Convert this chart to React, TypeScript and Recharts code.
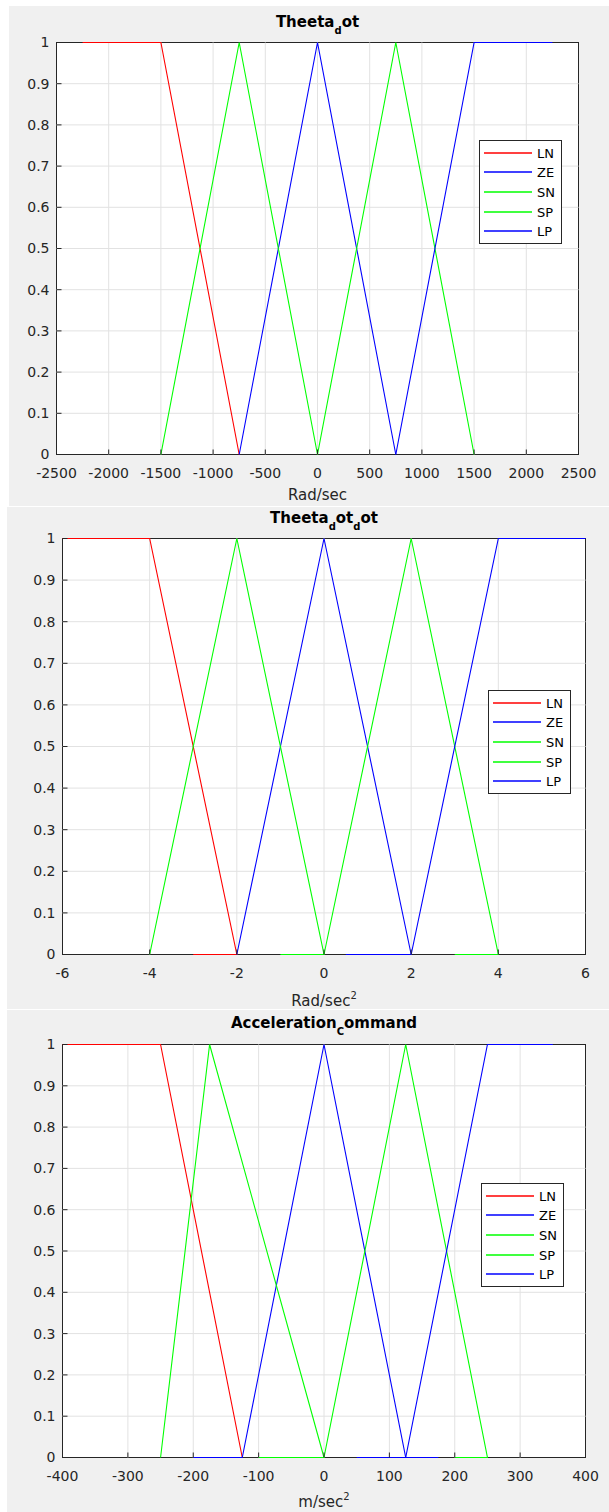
import React from "react";
import { LineChart, Line, XAxis, YAxis, CartesianGrid } from "recharts";

const FONT = "'DejaVu Sans', sans-serif";
const AXIS = "#262626";
const GRID = "#e2e2e2";
const RED = "#ff0000";
const BLUE = "#0000ff";
const GREEN = "#00ff00";

const yTicks = [0, 0.1, 0.2, 0.3, 0.4, 0.5, 0.6, 0.7, 0.8, 0.9, 1];
const seriesNames = ["LN", "ZE", "SN", "SP", "LP"];
const seriesColors = [RED, BLUE, GREEN, GREEN, BLUE];

// Theeta_dot (Rad/sec)
const dotTicks = [-2500, -2000, -1500, -1000, -500, 0, 500, 1000, 1500, 2000, 2500];
const dotLN = [[-2250, 1], [-1500, 1], [-750, 0]];
const dotZE = [[-750, 0], [0, 1], [750, 0]];
const dotSN = [[-1500, 0], [-750, 1], [0, 0]];
const dotSP = [[0, 0], [750, 1], [1500, 0]];
const dotLP = [[750, 0], [1500, 1], [2250, 1]];

// Theeta_dot_dot (Rad/sec^2)
const ddTicks = [-6, -4, -2, 0, 2, 4, 6];
const ddLN = [[-6, 1], [-4, 1], [-2, 0], [-3, 0]];
const ddZE = [[-2, 0], [0, 1], [2, 0]];
const ddSN = [[-4, 0], [-2, 1], [0, 0], [-1, 0]];
const ddSP = [[0, 0], [2, 1], [4, 0], [3, 0]];
const ddLP = [[0.5, 0], [2, 0], [4, 1], [6, 1]];

// Acceleration_Command (m/sec^2)
const accTicks = [-400, -300, -200, -100, 0, 100, 200, 300, 400];
const accLN = [[-400, 1], [-250, 1], [-125, 0]];
const accZE = [[-200, 0], [-125, 0], [0, 1], [125, 0], [175, 0]];
const accSN = [[-250, 0], [-175, 1], [0, 0]];
const accSP = [[-100, 0], [0, 0], [125, 1], [250, 0], [200, 0]];
const accLP = [[50, 0], [125, 0], [250, 1], [350, 1]];

const toPts = (pairs: number[][]) => pairs.map(([x, y]) => ({ x, y }));

const panels = [
  {
    gray: { x: 9, y: 6, w: 600, h: 500 },
    plot: { left: 56.5, right: 578.5, top: 42.5, bottom: 454.5 },
    ticks: dotTicks,
    series: [dotLN, dotZE, dotSN, dotSP, dotLP],
    legend: { x: 479, y: 140 },
    title: ["Theeta", "d", "ot"],
    titleY: 26.7,
    xlabel: ["Rad/sec"],
    xlabelY: 500,
  },
  {
    gray: { x: 7, y: 507, w: 602, h: 502 },
    plot: { left: 62.5, right: 585.5, top: 538.5, bottom: 954.5 },
    ticks: ddTicks,
    series: [ddLN, ddZE, ddSN, ddSP, ddLP],
    legend: { x: 488, y: 690 },
    title: ["Theeta", "d", "ot", "d", "ot"],
    titleY: 523.3,
    xlabel: ["Rad/sec", "2"],
    xlabelY: 1006,
  },
  {
    gray: { x: 7, y: 1010, w: 602, h: 502 },
    plot: { left: 62.5, right: 585.5, top: 1044.5, bottom: 1457.5 },
    ticks: accTicks,
    series: [accLN, accZE, accSN, accSP, accLP],
    legend: { x: 481, y: 1183 },
    title: ["Acceleration", "C", "ommand"],
    titleY: 1028,
    xlabel: ["m/sec", "2"],
    xlabelY: 1507,
  },
];

const tickStyle = { fill: AXIS, fontSize: 14, fontFamily: FONT };

function Panel({ p }: { p: (typeof panels)[number] }) {
  const { gray, plot, ticks } = p;
  const domain = [ticks[0], ticks[ticks.length - 1]];
  return (
    <div style={{ position: "absolute", left: 0, top: gray.y, width: 609, height: gray.h }}>
      <LineChart
        width={609}
        height={gray.h}
        margin={{ top: plot.top - gray.y, right: 0, bottom: 0, left: 0 }}
      >
        <CartesianGrid
          xAxisId="b"
          yAxisId="l"
          stroke={GRID}
          horizontalValues={yTicks.slice(1, -1)}
          verticalValues={ticks.slice(1, -1)}
        />
        <XAxis
          xAxisId="b"
          dataKey="x"
          type="number"
          domain={domain}
          ticks={ticks}
          interval={0}
          height={gray.y + gray.h - plot.bottom}
          tickSize={-5}
          tickMargin={19}
          axisLine={false}
          tickLine={{ stroke: AXIS }}
          tick={tickStyle}
        />
        <XAxis
          xAxisId="t"
          orientation="top"
          dataKey="x"
          type="number"
          domain={domain}
          ticks={ticks}
          interval={0}
          height={0}
          tickSize={-5}
          axisLine={false}
          tickLine={{ stroke: AXIS }}
          tick={false}
        />
        <YAxis
          yAxisId="l"
          type="number"
          domain={[0, 1]}
          ticks={yTicks}
          interval={0}
          width={plot.left}
          tickSize={-5}
          tickMargin={12}
          axisLine={false}
          tickLine={{ stroke: AXIS }}
          tick={tickStyle}
        />
        <YAxis
          yAxisId="r"
          orientation="right"
          type="number"
          domain={[0, 1]}
          ticks={yTicks}
          interval={0}
          width={609 - plot.right}
          tickSize={-5}
          axisLine={false}
          tickLine={{ stroke: AXIS }}
          tick={false}
        />
        {p.series.map((s, i) => (
          <Line
            key={seriesNames[i]}
            xAxisId="b"
            yAxisId="l"
            data={toPts(s)}
            dataKey="y"
            type="linear"
            stroke={seriesColors[i]}
            strokeWidth={1.1}
            dot={false}
            activeDot={false}
            isAnimationActive={false}
          />
        ))}
      </LineChart>
    </div>
  );
}

function Legend({ x, y }: { x: number; y: number }) {
  return (
    <g>
      <rect x={x + 0.5} y={y + 0.5} width={82} height={103} fill="#ffffff" stroke={AXIS} strokeWidth={1} />
      {seriesNames.map((name, i) => {
        const cy = Math.round(y + 12.5 + i * 19.7);
        return (
          <g key={name}>
            <line x1={x + 5} x2={x + 53} y1={cy} y2={cy} stroke={seriesColors[i]} strokeWidth={1.5} />
            <text x={x + 58} y={cy + 4.7} fontSize={13} fontFamily={FONT} fill="#000">
              {name}
            </text>
          </g>
        );
      })}
    </g>
  );
}

function Title({ parts, cx, y }: { parts: string[]; cx: number; y: number }) {
  return (
    <text x={cx} y={y} textAnchor="middle" fontSize={15} fontWeight="bold" fontFamily={FONT} fill="#000">
      {parts.map((t, i) => (
        <tspan key={i} fontSize={i % 2 ? 10 : 15} dy={i === 0 ? 0 : i % 2 ? 7 : -7}>
          {t}
        </tspan>
      ))}
    </text>
  );
}

function XLabel({ parts, cx, y }: { parts: string[]; cx: number; y: number }) {
  return (
    <text x={cx} y={y} textAnchor="middle" fontSize={15} fontFamily={FONT} fill={AXIS}>
      <tspan>{parts[0]}</tspan>
      {parts[1] && (
        <tspan fontSize={10} dy={-7}>
          {parts[1]}
        </tspan>
      )}
    </text>
  );
}

export default function App() {
  return (
    <div style={{ position: "absolute", left: 0, top: 0, width: 609, height: 1512, background: "#fff", overflow: "hidden" }}>
      <svg width={609} height={1512} style={{ position: "absolute", left: 0, top: 0 }}>
        {panels.map((p, i) => (
          <g key={i}>
            <rect x={p.gray.x} y={p.gray.y} width={p.gray.w} height={p.gray.h} fill="#f0f0f0" />
            <rect
              x={p.plot.left}
              y={p.plot.top}
              width={p.plot.right - p.plot.left}
              height={p.plot.bottom - p.plot.top}
              fill="#ffffff"
              stroke={AXIS}
              strokeWidth={1}
            />
          </g>
        ))}
      </svg>
      {panels.map((p, i) => (
        <Panel key={i} p={p} />
      ))}
      <svg width={609} height={1512} style={{ position: "absolute", left: 0, top: 0, pointerEvents: "none" }}>
        {panels.map((p, i) => {
          const cx = (p.plot.left + p.plot.right) / 2;
          return (
            <g key={i}>
              <Title parts={p.title} cx={cx} y={p.titleY} />
              <XLabel parts={p.xlabel} cx={cx} y={p.xlabelY} />
              <Legend x={p.legend.x} y={p.legend.y} />
            </g>
          );
        })}
      </svg>
    </div>
  );
}
